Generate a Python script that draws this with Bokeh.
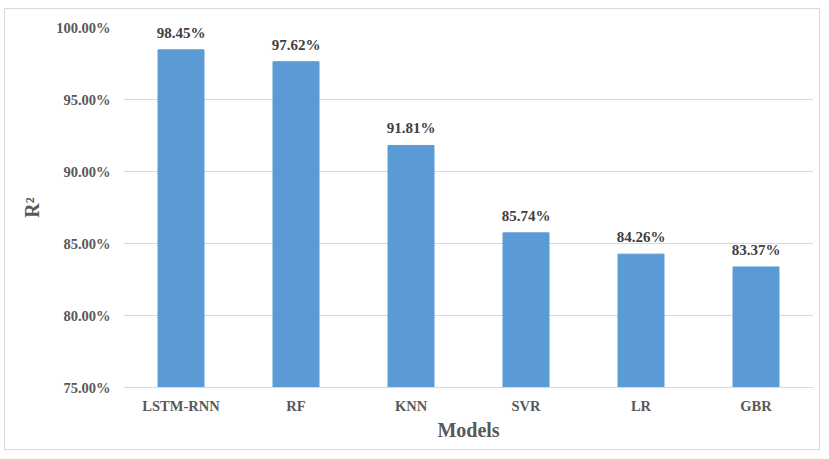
from bokeh.plotting import figure
from bokeh.models import ColumnDataSource, FixedTicker, Range1d
from bokeh.core.properties import value
from bokeh.embed import file_html
from bokeh.resources import INLINE

models = ["LSTM-RNN", "RF", "KNN", "SVR", "LR", "GBR"]
r2 = [98.45, 97.62, 91.81, 85.74, 84.26, 83.37]
labels = ["98.45%", "97.62%", "91.81%", "85.74%", "84.26%", "83.37%"]
y_ticks = [75, 80, 85, 90, 95, 100]
y_tick_labels = ["75.00%", "80.00%", "85.00%", "90.00%", "95.00%", "100.00%"]

src = ColumnDataSource(dict(models=models, r2=r2, labels=labels))

FONT = "Liberation Serif"
GRAY = "#595959"

p = figure(x_range=models, y_range=Range1d(75, 100), width=816, height=442,
           output_backend="svg", toolbar_location=None,
           min_border_left=118, min_border_right=8, min_border_top=18, min_border_bottom=64)
p.styles = {"margin-left": "4px", "margin-top": "8px", "border": "1px solid #d9d9d9"}
p.outline_line_color = None
p.background_fill_color = "white"

p.vbar(x="models", top="r2", bottom=0, width=0.4, source=src, color="#5B9BD5")
p.text(x="models", y="r2", text="labels", source=src, y_offset=-9,
       text_align="center", text_baseline="bottom",
       text_font=value(FONT), text_font_style="bold", text_font_size="15px",
       text_color="#404040")

p.yaxis.ticker = FixedTicker(ticks=y_ticks)
p.yaxis.major_label_overrides = {t: l for t, l in zip(y_ticks, y_tick_labels)}
p.yaxis.axis_line_color = None
p.yaxis.major_tick_line_color = None
p.yaxis.major_tick_out = 0
p.yaxis.minor_tick_line_color = None
p.yaxis.minor_tick_out = 0
p.yaxis.axis_label = "R²"
p.yaxis.major_label_standoff = 13
p.yaxis.axis_label_standoff = 10

p.xaxis.axis_line_color = "#d9d9d9"
p.xaxis.major_tick_line_color = None
p.xaxis.major_tick_out = 0
p.xaxis.axis_label = "Models"
p.xaxis.major_label_standoff = 10
p.xaxis.axis_label_standoff = 2

for ax in (p.xaxis, p.yaxis):
    ax.major_label_text_font = FONT
    ax.major_label_text_font_style = "bold"
    ax.major_label_text_font_size = "14.5px"
    ax.major_label_text_color = GRAY
    ax.axis_label_text_font = FONT
    ax.axis_label_text_font_style = "bold"
    ax.axis_label_text_font_size = "20px"
    ax.axis_label_text_color = GRAY

p.xgrid.grid_line_color = None
p.ygrid.grid_line_color = "#d9d9d9"

open("out.html", "w").write(file_html(p, INLINE))
